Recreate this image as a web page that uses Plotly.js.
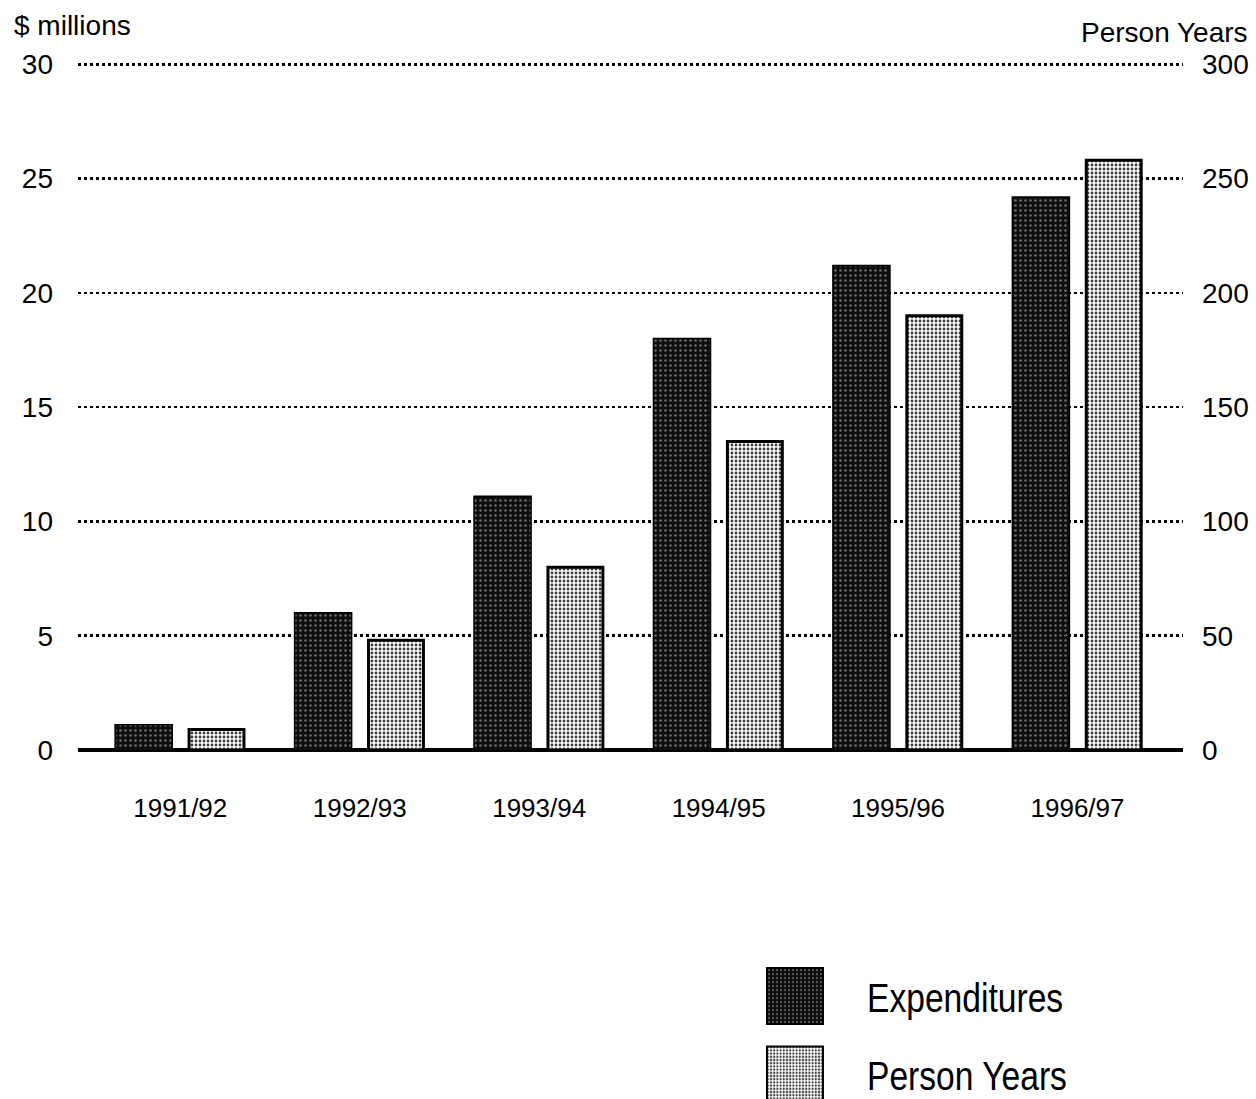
<!DOCTYPE html>
<html>
<head>
<meta charset="utf-8">
<script src="https://cdn.plot.ly/plotly-3.0.1.min.js"></script>
<style>
  html, body { margin: 0; padding: 0; background: #ffffff; }
  #chart { width: 1256px; height: 1099px; }
</style>
</head>
<body>
<div id="chart"></div>
<script>
// ---- data ----
const categories = ['1991/92', '1992/93', '1993/94', '1994/95', '1995/96', '1996/97'];
const expenditures = [1.1, 6.0, 11.1, 18.0, 21.2, 24.2];      // $ millions (left axis)
const personYears = [9, 48, 80, 135, 190, 258];               // person years (right axis)
const leftTicks = [0, 5, 10, 15, 20, 25, 30];
const rightTicks = [0, 50, 100, 150, 200, 250, 300];

const txtFont = 'Liberation Sans, Arial, sans-serif';

const traces = [
  {
    type: 'bar', name: 'Expenditures', x: categories, y: expenditures,
    yaxis: 'y', legendgroup: 'a',
    width: 0.318, offset: -0.363,
    marker: {
      color: '#0e0e0e',
      line: { color: '#000000', width: 1.5 },
      pattern: { shape: '.', fgcolor: '#6e6e6e', bgcolor: '#0e0e0e', size: 5, solidity: 0.2 }
    },
    hoverinfo: 'skip'
  },
  {
    type: 'bar', name: 'Person Years', x: categories, y: personYears,
    yaxis: 'y2', legendgroup: 'b',
    width: 0.306, offset: 0.049,
    marker: {
      color: '#ffffff',
      line: { color: '#000000', width: 3 },
      pattern: { shape: '.', fgcolor: '#3a3a3a', bgcolor: '#ffffff', size: 4, solidity: 0.38 }
    },
    hoverinfo: 'skip'
  }
];

const layout = {
  width: 1256, height: 1099,
  margin: { l: 78, r: 73, t: 63, b: 349, autoexpand: false },
  paper_bgcolor: '#ffffff', plot_bgcolor: '#ffffff',
  showlegend: true,
  legend: {
    x: 0.6235, y: -0.31, xanchor: 'left', yanchor: 'top',
    font: { family: txtFont, size: 41, color: '#000' },
    traceorder: 'grouped', tracegroupgap: 22,
    bgcolor: 'rgba(0,0,0,0)'
  },
  xaxis: {
    type: 'category',
    range: [-0.570, 5.588],
    showgrid: false, showline: false, zeroline: false,
    ticks: '', ticklabelstandoff: 40,
    tickfont: { family: txtFont, size: 26, color: '#000' }
  },
  yaxis: {
    range: [0, 30.06], tickvals: leftTicks, ticktext: leftTicks.map(String),
    showgrid: true, gridcolor: '#000000', gridwidth: 2.5, griddash: 'dot',
    zeroline: true, zerolinecolor: '#000000', zerolinewidth: 4,
    showline: false, ticks: '', ticklabelstandoff: 24,
    tickfont: { family: txtFont, size: 28, color: '#000' }
  },
  yaxis2: {
    range: [0, 300.6], tickvals: rightTicks, ticktext: rightTicks.map(String),
    overlaying: 'y', side: 'right',
    showgrid: false, zeroline: false, showline: false, ticks: '',
    ticklabelstandoff: 18,
    tickfont: { family: txtFont, size: 28, color: '#000' }
  },
  annotations: [
    { text: '$ millions', xref: 'paper', yref: 'paper', x: -0.0597, y: 1.055,
      xanchor: 'left', yanchor: 'middle', showarrow: false,
      font: { family: txtFont, size: 28, color: '#000' } },
    { text: 'Person Years', xref: 'paper', yref: 'paper', x: 1.0606, y: 1.045,
      xanchor: 'right', yanchor: 'middle', showarrow: false,
      font: { family: txtFont, size: 28, color: '#000' } }
  ]
};

Plotly.newPlot('chart', traces, layout, { staticPlot: true }).then(function (gd) {
  // enlarge legend swatches and narrow the legend text like the reference
  const sb = gd.querySelector('.legend .scrollbox');
  if (sb) sb.removeAttribute('clip-path');
  gd.querySelectorAll('.legend .traces').forEach(function (t) {
    const p = t.querySelector('.legendpoints path');
    if (p) {
      p.setAttribute('d', 'M28,28H-28V-28H28Z');
      p.style.strokeWidth = '2px';
    }
    const pts = t.querySelector('.legendpoints');
    if (pts) pts.setAttribute('transform', 'translate(8,0)');
    const txt = t.querySelector('.legendtext');
    if (txt) {
      txt.setAttribute('x', '0');
      txt.setAttribute('transform', 'translate(100,0) scale(0.82,1)');
    }
  });
});
</script>
</body>
</html>
